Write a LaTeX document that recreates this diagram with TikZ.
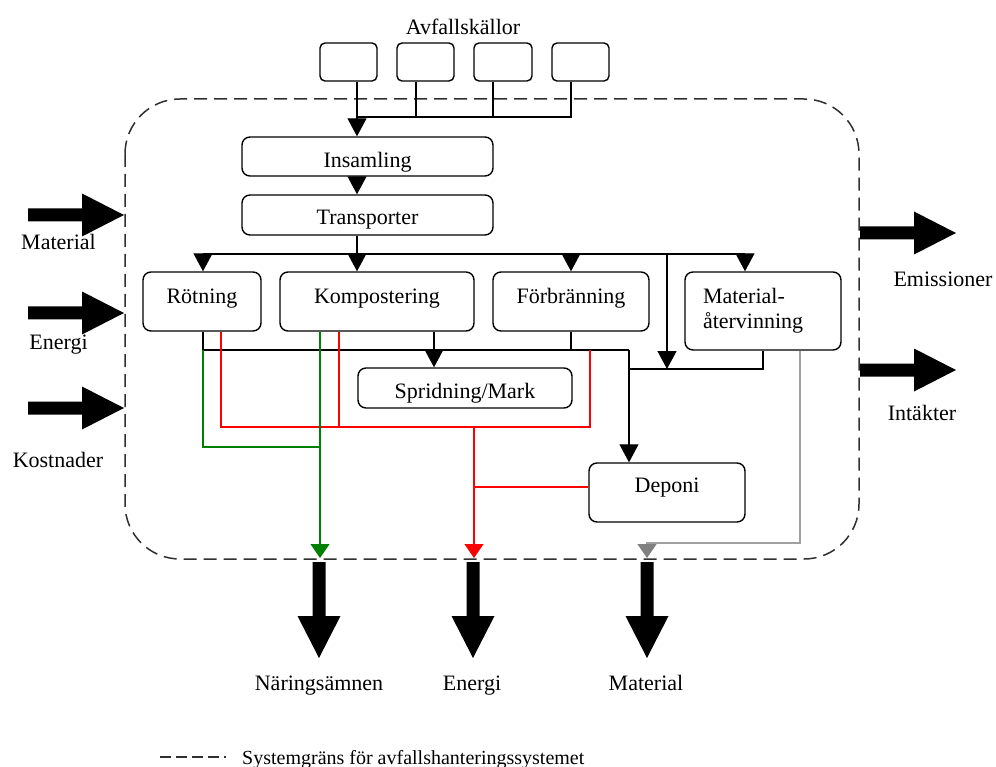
\documentclass[tikz,border=0pt]{standalone}
\usepackage{fontspec}
\setmainfont{Liberation Serif}
\usetikzlibrary{arrows.meta}
\definecolor{flowgreen}{HTML}{008000}
\definecolor{flowred}{HTML}{FF0000}
\definecolor{flowgray}{HTML}{A0A0A0}
\definecolor{tipgray}{HTML}{808080}
\definecolor{borderink}{HTML}{303030}
\begin{document}
\begin{tikzpicture}[x=1pt,y=-1pt,
  font=\fontsize{22}{25}\selectfont,
  stage/.style={draw, line width=1.4pt, rounded corners=8pt, inner sep=0pt},
  srcbox/.style={draw, line width=1.4pt, rounded corners=5pt, inner sep=0pt,
    minimum width=57pt, minimum height=38pt},
  lift/.style={text height=#1pt, text depth=0pt},
  link/.style={line width=1.3pt},
  arr/.style={link, -{Triangle[width=19pt,length=18pt]}},
  greenflow/.style={line width=1.2pt, draw=flowgreen},
  redflow/.style={line width=1.2pt, draw=flowred},
  grayflow/.style={line width=1.2pt, draw=flowgray},
  greentip/.style={-{Triangle[width=19pt,length=14pt,color=flowgreen]}},
  redtip/.style={-{Triangle[width=19pt,length=14pt,color=flowred]}},
  graytip/.style={-{Triangle[width=19pt,length=14pt,color=tipgray]}},
  boundary/.style={draw=borderink, line width=1.5pt, dash pattern=on 13pt off 7pt,
    rounded corners=55pt},
  legenddash/.style={draw=borderink, line width=1.5pt, dash pattern=on 11pt off 5pt},
  lbl/.style={anchor=base},
  bigarrow/.pic={\fill (0,-6.5) -- (54,-6.5) -- (54,-21.5) -- (96,0) -- (54,21.5)
    -- (54,6.5) -- (0,6.5) -- cycle;}
]
\useasboundingbox (0,0) rectangle (996,767);

% system boundary
\draw[boundary] (125,99) rectangle (859,559);

% waste sources
\node[lbl] (srclabel) at (463,35) {Avfallskällor};
\node[srcbox] (src1) at (348.5,62) {};
\node[srcbox] (src2) at (425.5,62) {};
\node[srcbox, minimum width=58pt] (src3) at (503,62) {};
\node[srcbox] (src4) at (580.5,62) {};

% process stages
\node[stage, minimum width=251pt, minimum height=39pt, lift=23] (ins) at (367.5,156.5) {Insamling};
\node[stage, minimum width=251pt, minimum height=40pt, lift=20] (trans) at (367.5,215) {Transporter};
\node[stage, minimum width=118pt, minimum height=59pt, lift=5] (rot) at (202,301.5) {Rötning};
\node[stage, minimum width=194pt, minimum height=59pt, lift=4] (komp) at (377,301.5) {Kompostering};
\node[stage, minimum width=156pt, minimum height=59pt, lift=4] (forb) at (571,301.5) {Förbränning};
\node[stage, text width=120pt, align=left, inner xsep=18pt, minimum height=78pt] (mat) at (763,311) {Material-\\återvinning};
\node[stage, minimum width=214pt, minimum height=40pt, lift=20] (sprid) at (465,388) {Spridning/Mark};
\node[stage, minimum width=156pt, minimum height=59pt, lift=0] (dep) at (667,492.5) {Deponi};

% junction points
\coordinate (s1) at (357,117);
\coordinate (s2) at (416,117);
\coordinate (s3) at (493,117);
\coordinate (s4) at (571,117);
\coordinate (bR) at (203,254);
\coordinate (bK) at (357,254);
\coordinate (bF) at (571,254);
\coordinate (bX) at (667,254);
\coordinate (bM) at (745,254);
\coordinate (cL) at (203,350);
\coordinate (cD) at (629,350);
\coordinate (kx) at (434,350);
\coordinate (mL) at (763,369);
\coordinate (mD) at (629,369);
\coordinate (rA) at (221,427);
\coordinate (rB) at (339,427);
\coordinate (rC) at (474,427);
\coordinate (rD) at (590,427);
\coordinate (rE) at (590,350);
\coordinate (rF) at (474,487);
\coordinate (eTip) at (474,558);
\coordinate (gA) at (203,447);
\coordinate (gB) at (320,447);
\coordinate (nTip) at (320,558);
\coordinate (yA) at (800,543);
\coordinate (yB) at (647,543);
\coordinate (mTip) at (647,558);

% sources to collection
\draw[link] (src2.south -| s2) -- (s2);
\draw[link] (src3.south -| s3) -- (s3);
\draw[link] (src4.south -| s4) -- (s4) -- (s1);
\draw[arr] (src1.south -| s1) -- (s1 |- ins.north);
\draw[arr] (ins.south -| s1) -- (s1 |- trans.north);

% distribution to treatments
\draw[link] (trans.south -| bK) -- (bK);
\draw[link] (bR) -- (bM);
\draw[arr] (bR) -- (bR |- rot.north);
\draw[arr] (bK) -- (bK |- komp.north);
\draw[arr] (bF) -- (bF |- forb.north);
\draw[arr] (bM) -- (bM |- mat.north);
\draw[arr] (bX) -- (bX |- mD);

% residues
\draw[link] (rot.south -| cL) -- (cL) -- (cD);
\draw[link] (forb.south -| bF) -- (bF |- cD);
\draw[arr] (cD) -- (cD |- dep.north);
\draw[link] (mat.south -| mL) -- (mL) -- (mD);
\draw[arr] (komp.south -| kx) -- (kx |- sprid.north);

% energy flows
\draw[redflow] (rot.south -| rA) -- (rA) -- (rD) -- (rE);
\draw[redflow] (komp.south -| rB) -- (rB);
\draw[redflow, redtip] (rC) -- (eTip);
\draw[redflow] (dep.west |- rF) -- (rF);

% nutrient flows
\draw[greenflow] (cL) -- (gA) -- (gB);
\draw[greenflow, greentip] (komp.south -| gB) -- (nTip);

% material flow
\draw[grayflow, graytip] (mat.south -| yA) -- (yA) -- (yB) -- (mTip);

% inputs
\pic at (28,215) {bigarrow};
\pic at (28,313) {bigarrow};
\pic at (28,408) {bigarrow};
\node[lbl] (inMat) at (58.5,250) {Material};
\node[lbl] (inEn) at (58.5,349) {Energi};
\node[lbl] (inCost) at (58,467) {Kostnader};

% outputs to the side
\pic at (860,233) {bigarrow};
\pic at (860,370) {bigarrow};
\node[lbl] (outEm) at (943,287) {Emissioner};
\node[lbl] (outInc) at (922,420) {Intäkter};

% outputs downwards
\pic[rotate=-90] at (319,562) {bigarrow};
\pic[rotate=-90] at (473,562) {bigarrow};
\pic[rotate=-90] at (647,562) {bigarrow};
\node[lbl] (outNut) at (319,690) {Näringsämnen};
\node[lbl] (outEn) at (472,690) {Energi};
\node[lbl] (outMat) at (646,690) {Material};

% legend
\coordinate (legA) at (160,757);
\coordinate (legB) at (226,757);
\draw[legenddash] (legA) -- (legB);
\node[anchor=base west, inner sep=0pt, font=\fontsize{20}{22}\selectfont] (legend) at (242,764)
  {Systemgräns för avfallshanteringssystemet};
\end{tikzpicture}
\end{document}
